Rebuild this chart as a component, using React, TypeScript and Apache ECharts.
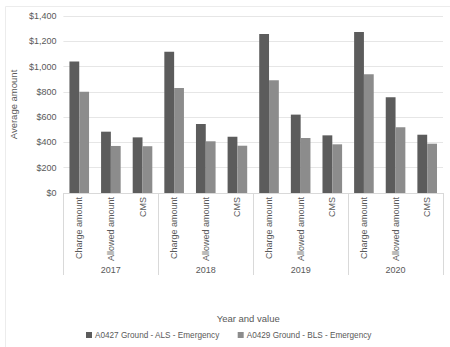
import React, { useEffect, useRef } from "react";
import * as echarts from "echarts";

const categories = [
  "Charge amount", "Allowed amount", "CMS",
  "Charge amount", "Allowed amount", "CMS",
  "Charge amount", "Allowed amount", "CMS",
  "Charge amount", "Allowed amount", "CMS",
];
const years = ["2017", "2018", "2019", "2020"];
const alsName = "A0427 Ground - ALS - Emergency";
const blsName = "A0429 Ground - BLS - Emergency";
const alsValues = [1040, 485, 440, 1118, 546, 445, 1258, 620, 456, 1274, 757, 461];
const blsValues = [800, 372, 370, 831, 409, 374, 892, 435, 385, 939, 520, 390];
const yTicks = { min: 0, max: 1400, interval: 200 };

const FONT = "'Liberation Sans', Arial, sans-serif";
const TXT = "#595959";

export default function App() {
  const ref = useRef<HTMLDivElement>(null);
  useEffect(() => {
    if (!ref.current) return;
    const chart = echarts.init(ref.current, undefined, { renderer: "svg" });
    chart.setOption({
      animation: false,
      backgroundColor: "#ffffff",
      textStyle: { fontFamily: FONT },
      graphic: [
        {
          type: "rect",
          shape: { x: 5.5, y: 6.5, width: 460, height: 360 },
          style: { fill: "none", stroke: "#ececec", lineWidth: 1 },
          silent: true,
        },
      ],
      grid: { left: 56, right: 7, top: 16, bottom: 154, containLabel: false },
      legend: {
        data: [alsName, blsName],
        left: 81,
        top: 326,
        icon: "rect",
        itemWidth: 6,
        itemHeight: 6,
        itemGap: 18,
        textStyle: { color: TXT, fontSize: 8.2, fontFamily: FONT, padding: [0, 0, 0, -2] },
      },
      xAxis: [
        {
          type: "category",
          data: categories,
          position: "bottom",
          axisLine: { show: true, lineStyle: { color: "#d9d9d9" } },
          axisTick: { show: false },
          axisLabel: {
            rotate: 90,
            interval: 0,
            margin: 4,
            color: TXT,
            fontSize: 9,
            fontFamily: FONT,
          },
        },
        {
          type: "category",
          data: years,
          position: "bottom",
          axisLine: { show: false },
          axisTick: {
            show: true,
            interval: 0,
            length: 82,
            lineStyle: { color: "#d9d9d9" },
          },
          axisLabel: { margin: 72, color: TXT, fontSize: 9, fontFamily: FONT },
          name: "Year and value",
          nameLocation: "middle",
          nameGap: 120,
          nameTextStyle: { color: TXT, fontSize: 9.5, fontFamily: FONT, padding: [0, 10, 0, 0] },
        },
      ],
      yAxis: {
        type: "value",
        min: yTicks.min,
        max: yTicks.max,
        interval: yTicks.interval,
        name: "Average amount",
        nameLocation: "middle",
        nameGap: 37,
        nameTextStyle: { color: TXT, fontSize: 9.5, fontFamily: FONT },
        axisLine: { show: false },
        axisTick: { show: false },
        splitLine: { lineStyle: { color: "#e6e6e6" } },
        axisLabel: {
          color: TXT,
          fontSize: 9,
          margin: 7,
          fontFamily: FONT,
          formatter: (v: number) => "$" + v.toLocaleString("en-US"),
        },
      },
      series: [
        {
          name: alsName,
          type: "bar",
          data: alsValues,
          xAxisIndex: 0,
          barGap: "0%",
          barCategoryGap: "38%",
          itemStyle: { color: "#5c5c5c" },
        },
        {
          name: blsName,
          type: "bar",
          data: blsValues,
          xAxisIndex: 0,
          itemStyle: { color: "#8c8c8c" },
        },
      ],
    });
    return () => chart.dispose();
  }, []);
  return <div ref={ref} style={{ width: 450, height: 347, position: "absolute", left: 0, top: 0 }} />;
}
